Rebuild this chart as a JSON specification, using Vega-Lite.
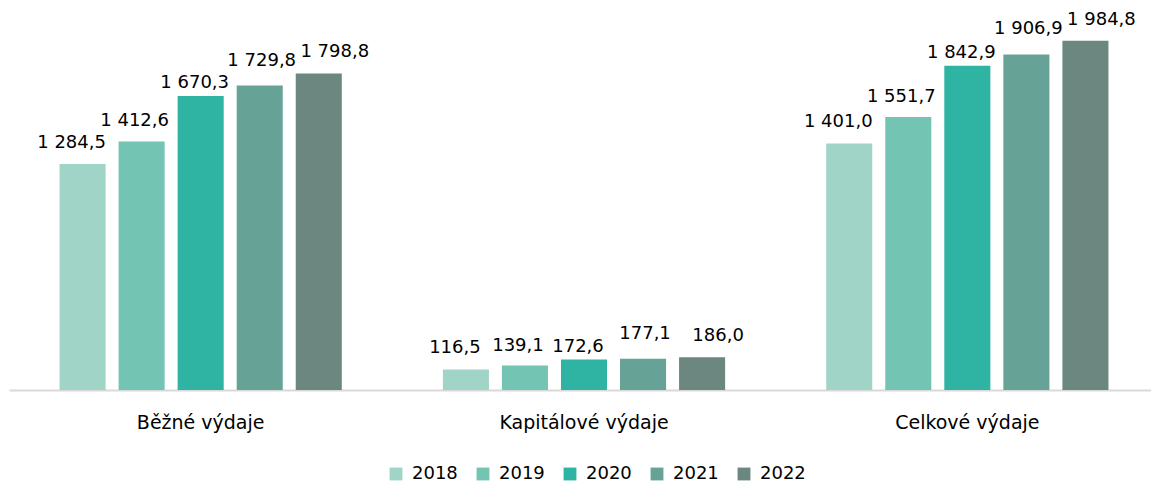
{
  "$schema": "https://vega.github.io/schema/vega-lite/v6.json",
  "autosize": {"type": "none"},
  "width": 1150,
  "height": 352,
  "padding": {"left": 9, "top": 38, "right": 0, "bottom": 92},
  "config": {
    "view": {"stroke": null},
    "locale": {"number": {"decimal": ",", "thousands": " ", "grouping": [3], "currency": ["", ""]}},
    "font": "DejaVu Sans",
    "text": {"baseline": "alphabetic", "fontSize": 18, "color": "#000000"}
  },
  "data": {
    "values": [
      {"kategorie": "Běžné výdaje", "rok": "2018", "hodnota": 1284.5},
      {"kategorie": "Běžné výdaje", "rok": "2019", "hodnota": 1412.6},
      {"kategorie": "Běžné výdaje", "rok": "2020", "hodnota": 1670.3},
      {"kategorie": "Běžné výdaje", "rok": "2021", "hodnota": 1729.8},
      {"kategorie": "Běžné výdaje", "rok": "2022", "hodnota": 1798.8},
      {"kategorie": "Kapitálové výdaje", "rok": "2018", "hodnota": 116.5},
      {"kategorie": "Kapitálové výdaje", "rok": "2019", "hodnota": 139.1},
      {"kategorie": "Kapitálové výdaje", "rok": "2020", "hodnota": 172.6},
      {"kategorie": "Kapitálové výdaje", "rok": "2021", "hodnota": 177.1},
      {"kategorie": "Kapitálové výdaje", "rok": "2022", "hodnota": 186.0},
      {"kategorie": "Celkové výdaje", "rok": "2018", "hodnota": 1401.0},
      {"kategorie": "Celkové výdaje", "rok": "2019", "hodnota": 1551.7},
      {"kategorie": "Celkové výdaje", "rok": "2020", "hodnota": 1842.9},
      {"kategorie": "Celkové výdaje", "rok": "2021", "hodnota": 1906.9},
      {"kategorie": "Celkové výdaje", "rok": "2022", "hodnota": 1984.8}
    ]
  },
  "encoding": {
    "x": {
      "field": "kategorie",
      "type": "nominal",
      "sort": ["Běžné výdaje", "Kapitálové výdaje", "Celkové výdaje"],
      "scale": {"paddingInner": 0, "paddingOuter": 0},
      "axis": {
        "title": null,
        "labelAngle": 0,
        "labelFontSize": 19,
        "labelColor": "#000000",
        "labelPadding": 23,
        "ticks": false,
        "domainColor": "#d9d9d9",
        "domainWidth": 2
      }
    },
    "xOffset": {
      "field": "rok",
      "type": "nominal",
      "scale": {"domain": ["2018", "2019", "2020", "2021", "2022"], "paddingInner": 0.22, "paddingOuter": 0.856}
    },
    "y": {
      "field": "hodnota",
      "type": "quantitative",
      "scale": {"domain": [0, 2000], "nice": false},
      "axis": null
    },
    "text": {"field": "hodnota", "type": "quantitative", "format": ",.1f"}
  },
  "layer": [
    {
      "mark": {"type": "bar"},
      "encoding": {
        "text": null,
        "color": {
          "field": "rok",
          "type": "nominal",
          "scale": {
            "domain": ["2018", "2019", "2020", "2021", "2022"],
            "range": ["#a0d4c6", "#74c4b4", "#2fb3a2", "#66a396", "#6b877f"]
          },
          "legend": {
            "title": null,
            "orient": "none",
            "direction": "horizontal",
            "legendX": 378,
            "legendY": 427,
            "symbolType": "square",
            "symbolSize": 165,
            "symbolStrokeWidth": 0,
            "symbolOpacity": 1,
            "labelFontSize": 18,
            "labelColor": "#000000",
            "labelOffset": 7,
            "columnPadding": 16
          }
        }
      }
    },
    {
      "transform": [{"filter": "datum.rok === '2018'"}],
      "mark": {"type": "text", "dx": -11, "dy": -16}
    },
    {
      "transform": [{"filter": "datum.rok === '2019'"}],
      "mark": {"type": "text", "dx": -7, "dy": -15}
    },
    {
      "transform": [{"filter": "datum.rok === '2020'"}],
      "mark": {"type": "text", "dx": -6, "dy": -8}
    },
    {
      "transform": [{"filter": "datum.rok === '2021'"}],
      "mark": {"type": "text", "dx": 2, "dy": -20}
    },
    {
      "transform": [{"filter": "datum.rok === '2022'"}],
      "mark": {"type": "text", "dx": 16, "dy": -16}
    }
  ]
}
